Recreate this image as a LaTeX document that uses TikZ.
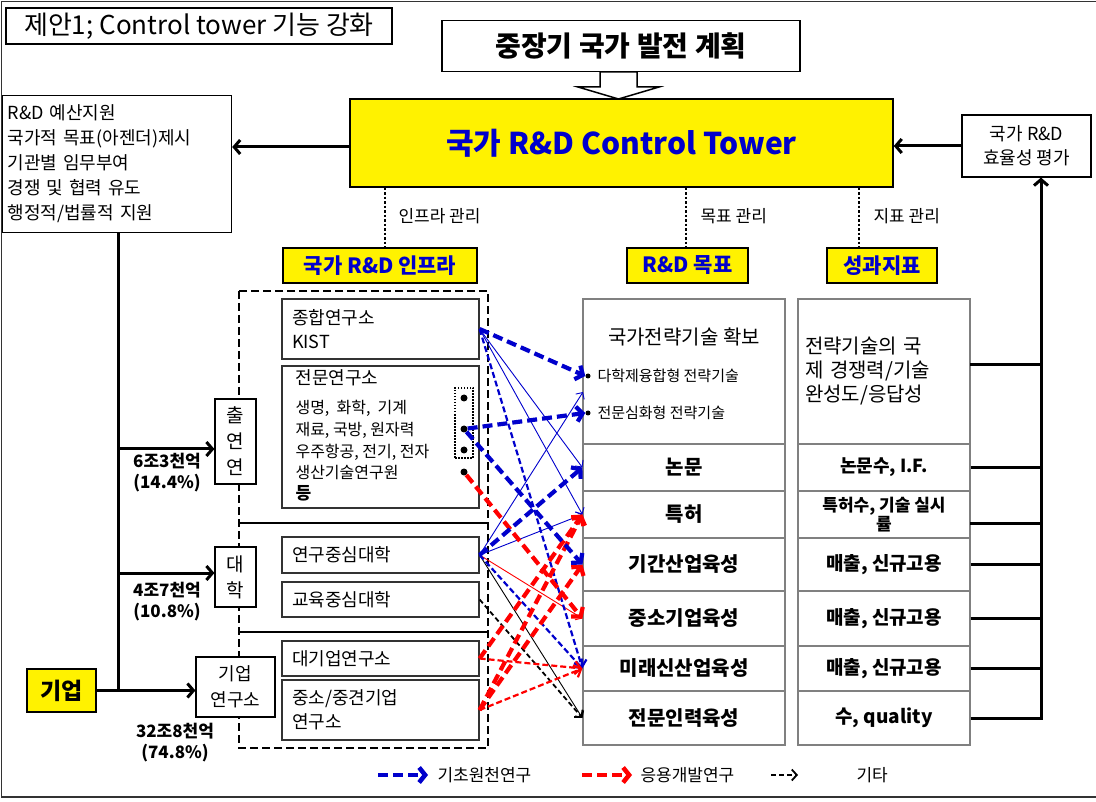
\documentclass[tikz,border=0pt]{standalone}
\usepackage{fontspec}
\setmainfont{Noto Sans CJK KR}
\usetikzlibrary{arrows.meta,calc}
\newcommand{\fsz}[2]{\fontsize{#1}{#2}\selectfont}
\definecolor{dblue}{RGB}{0,0,204}
\definecolor{dred}{RGB}{255,0,0}
\definecolor{tblue}{RGB}{0,0,204}
\begin{document}
\begin{tikzpicture}[x=1pt,y=-1pt,
  box/.style={draw=black,line width=1.2pt,fill=white,inner sep=0pt,align=center},
  obox/.style={draw=black!80,line width=1.2pt,fill=white,inner sep=0pt,minimum width=197pt,text width=177pt,align=left},
  cell/.style={draw=black!50,line width=1.2pt,fill=white,inner sep=0pt,align=center},
  ybox/.style={draw=black,line width=1.5pt,fill=yellow,inner sep=0pt,align=center},
  tree/.style={line width=3pt},
  treearrow/.style={line width=3pt,-{Straight Barb[length=6pt,width=14pt]}},
  dotline/.style={line width=2.5pt,dash pattern=on 2.5pt off 2pt},
  bT/.style={draw=dblue,line width=4.2pt,dash pattern=on 10pt off 5pt,-{Straight Barb[length=6pt,width=15pt]}},
  bM/.style={draw=dblue,line width=2.2pt,dash pattern=on 6pt off 3pt,-{Straight Barb[length=6pt,width=13pt]}},
  bt/.style={draw=dblue,line width=0.9pt,-{Straight Barb[length=5pt,width=10pt]}},
  rT/.style={draw=dred,line width=4.2pt,dash pattern=on 10pt off 5pt,-{Straight Barb[length=6pt,width=15pt]}},
  rM/.style={draw=dred,line width=2.2pt,dash pattern=on 6pt off 3pt,-{Straight Barb[length=6pt,width=13pt]}},
  rt/.style={draw=dred,line width=0.9pt,-{Straight Barb[length=5pt,width=10pt]}},
  kM/.style={draw=black,line width=1.8pt,dash pattern=on 5pt off 3pt,-{Straight Barb[length=5pt,width=11pt]}},
  kt/.style={draw=black,line width=0.9pt,-{Straight Barb[length=5pt,width=10pt]}},
  dotn/.style={circle,fill=black,inner sep=0pt,minimum size=7pt}
]
\useasboundingbox (0,0) rectangle (1096,802);
\draw[line width=1.5pt,black!80] (1096,1.5) -- (1.5,1.5) -- (1.5,797) -- (1096,797);

% top
\node[box,minimum width=386pt,minimum height=36pt,font={\fsz{26}{28}}] (title) at (199,26) {제안1; Control tower 기능 강화};
\node[box,minimum width=358pt,minimum height=51pt,font={\fsz{28}{32}\bfseries}] (plan) at (621,46) {중장기 국가 발전 계획};
\node[ybox,minimum width=543pt,minimum height=88pt,text=tblue,font={\fsz{30}{34}\bfseries}] (tower) at (621.5,143) {국가 R\&D Control Tower};
\draw[line width=1.5pt,fill=white] (600,72) -- (637,72) -- (637,87) -- (659,87) -- (618.5,99) -- (578,87) -- (600,87) -- cycle;

\node[box,anchor=north west,minimum width=229pt,minimum height=137pt,text width=219pt,inner xsep=5pt,align=left,font={\fsz{18}{25}}] (goals) at (2,95)
 {R\&D 예산지원\\국가적 목표(아젠더)제시\\기관별 임무부여\\경쟁 및 협력 유도\\행정적/법률적 지원};
\node[box,minimum width=129pt,minimum height=62pt,font={\fsz{18}{24}}] (eval) at (1026.5,146) {국가 R\&D\\효율성 평가};
\draw[treearrow] ([yshift=-4pt]tower.west) -- ([yshift=-4pt]tower.west -| goals.east);
\draw[treearrow] (eval.west) -- (eval.west -| tower.east);

% headers
\node[ybox,minimum width=194pt,minimum height=35pt,text=tblue,font={\fsz{21}{24}\bfseries}] (infra) at (380,265.5) {국가 R\&D 인프라};
\node[ybox,minimum width=121pt,minimum height=35pt,text=tblue,font={\fsz{21}{24}\bfseries}] (goalh) at (687.5,265.5) {R\&D 목표};
\node[ybox,minimum width=110pt,minimum height=35pt,text=tblue,font={\fsz{21}{24}\bfseries}] (perfh) at (882,265.5) {성과지표};
\coordinate (i1) at (385,248);
\coordinate (i2) at (686,248);
\coordinate (i3) at (859,248);
\draw[dotline] (i1 |- tower.south) -- (i1);
\draw[dotline] (i2 |- tower.south) -- (i2);
\draw[dotline] (i3 |- tower.south) -- (i3);
\node[anchor=west,font={\fsz{17}{20}}] (l1) at (395,216) {인프라 관리};
\node[anchor=west,font={\fsz{17}{20}}] (l2) at (697,216) {목표 관리};
\node[anchor=west,font={\fsz{17}{20}}] (l3) at (870,216) {지표 관리};

% infra dashed box
\draw[line width=2.5pt,dash pattern=on 8pt off 4pt] (239,291) rectangle (488,748);
\draw[line width=2.5pt] (239,523) -- (488,523);
\draw[line width=2.5pt] (239,632) -- (488,632);

% left tree
\node[box,minimum width=41pt,minimum height=85pt,font={\fsz{19}{26}}] (chul) at (235.5,441.5) {출\\연\\연};
\node[box,minimum width=41pt,minimum height=60pt,font={\fsz{19}{26}}] (dae) at (235.5,577) {대\\학};
\node[box,minimum width=79pt,minimum height=60pt,font={\fsz{18}{26}}] (gyl) at (235.5,687) {기업\\연구소};
\node[ybox,minimum width=69pt,minimum height=43pt,font={\fsz{23}{26}\bfseries}] (gieop) at (61.5,690.5) {기업};
\coordinate (trunk) at (118,690.5);
\coordinate (br1) at (118,449);
\coordinate (br2) at (118,573);
\draw[tree] (trunk |- goals.south) -- (trunk);
\draw[treearrow] (br1) -- (br1 -| chul.west);
\draw[treearrow] (br2) -- (br2 -| dae.west);
\draw[treearrow] (gieop.east) -- (gieop.east -| gyl.west);
\node[align=center,font={\fsz{17}{21}\bfseries}] (a1) at (167,473) {6조3천억\\(14.4\%)};
\node[align=center,font={\fsz{17}{21}\bfseries}] (a2) at (167,602) {4조7천억\\(10.8\%)};
\node[align=center,font={\fsz{17}{21}\bfseries}] (a3) at (175,743) {32조8천억\\(74.8\%)};

% org boxes
\node[obox,minimum height=60pt,font={\fsz{18}{24}}] (kist) at (380.5,329) {종합연구소\\KIST};
\node[obox,minimum height=142pt] (jm) at (380.5,437) {};
\node[anchor=west,font={\fsz{18}{20}}] (jm0) at (292,378) {전문연구소};
\node[anchor=west,font={\fsz{16}{18}}] (jm1) at (292,408) {생명,\ \ 화학,\ \ 기계};
\node[anchor=west,font={\fsz{16}{18}}] (jm2) at (292,430) {재료, 국방, 원자력};
\node[anchor=west,font={\fsz{16}{18}}] (jm3) at (292,452) {우주항공,\ 전기,\ 전자};
\node[anchor=west,font={\fsz{16}{18}}] (jm4) at (292,473) {생산기술연구원};
\node[anchor=west,font={\fsz{17}{18}\bfseries}] (jm5) at (292,493) {등};
\node[draw,line width=2pt,dash pattern=on 1.5pt off 1.5pt,minimum width=18pt,minimum height=70pt,inner sep=0pt] (dbox) at (464,423) {};
\node[dotn] (d1) at (464,398) {};
\node[dotn] (d2) at (464,429) {};
\node[dotn] (d3) at (464,450) {};
\node[dotn] (d4) at (464,472) {};
\node[obox,minimum height=36pt,font={\fsz{18}{22}}] (yg) at (380.5,555) {연구중심대학};
\node[obox,minimum height=35pt,font={\fsz{18}{22}}] (gy) at (380.5,599.5) {교육중심대학};
\node[obox,minimum height=35pt,font={\fsz{18}{22}}] (dg) at (380.5,658.5) {대기업연구소};
\node[obox,minimum height=60pt,font={\fsz{18}{24}}] (js) at (380.5,710) {중소/중견기업\\연구소};

% goal column
\node[cell,minimum width=202pt,minimum height=145pt] (m0) at (684,371.5) {};
\node[font={\fsz{20}{24}}] (m0t) at (684,337) {국가전략기술 확보};
\node[dotn,minimum size=5pt] (b1) at (588,376) {};
\node[dotn,minimum size=5pt] (b2) at (588,413) {};
\node[anchor=west,font={\fsz{15}{18}}] (b1t) at (594,376) {다학제융합형 전략기술};
\node[anchor=west,font={\fsz{15}{18}}] (b2t) at (594,413) {전문심화형 전략기술};
\node[cell,minimum width=202pt,minimum height=47pt,font={\fsz{20}{24}\bfseries}] (m1) at (684,467.5) {논문};
\node[cell,minimum width=202pt,minimum height=47pt,font={\fsz{20}{24}\bfseries}] (m2) at (684,514.5) {특허};
\node[cell,minimum width=202pt,minimum height=53pt,font={\fsz{20}{24}\bfseries}] (m3) at (684,564.5) {기간산업육성};
\node[cell,minimum width=202pt,minimum height=55pt,font={\fsz{20}{24}\bfseries}] (m4) at (684,618.5) {중소기업육성};
\node[cell,minimum width=202pt,minimum height=45pt,font={\fsz{20}{24}\bfseries}] (m5) at (684,668.5) {미래신산업육성};
\node[cell,minimum width=202pt,minimum height=54pt,font={\fsz{20}{24}\bfseries}] (m6) at (684,718) {전문인력육성};

% perf column
\node[cell,minimum width=172pt,minimum height=145pt,text width=158pt,align=left,font={\fsz{20}{24}}] (r0) at (884,371.5) {전략기술의 국\\제 경쟁력/기술\\완성도/응답성};
\node[cell,minimum width=172pt,minimum height=47pt,font={\fsz{18}{22}\bfseries}] (r1) at (884,467.5) {논문수, I.F.};
\node[cell,minimum width=172pt,minimum height=47pt,font={\fsz{17}{18}\bfseries}] (r2) at (884,514.5) {특허수, 기술 실시\\률};
\node[cell,minimum width=172pt,minimum height=53pt,font={\fsz{19}{24}\bfseries}] (r3) at (884,564.5) {매출, 신규고용};
\node[cell,minimum width=172pt,minimum height=55pt,font={\fsz{19}{24}\bfseries}] (r4) at (884,618.5) {매출, 신규고용};
\node[cell,minimum width=172pt,minimum height=45pt,font={\fsz{19}{24}\bfseries}] (r5) at (884,668.5) {매출, 신규고용};
\node[cell,minimum width=172pt,minimum height=54pt,font={\fsz{19}{24}\bfseries}] (r6) at (884,718) {수, quality};

\coordinate (sp) at (1041,718);
\coordinate (r0o) at (970,365);
\coordinate (r2o) at (970,523);
\draw[tree] (r0o) -- (r0o -| sp);
\draw[tree] (r1.east) -- (r1.east -| sp);
\draw[tree] (r2o) -- (r2o -| sp);
\draw[tree] (r3.east) -- (r3.east -| sp);
\draw[tree] (r4.east) -- (r4.east -| sp);
\draw[tree] (r5.east) -- (r5.east -| sp);
\draw[treearrow] (r6.east) -- (r6.east -| sp) -- (sp |- eval.south);

% connectors between infra and goals
\coordinate (t12) at (583,392);
\draw[bt] (kist.east) -- (m1.west);
\draw[bt] (kist.east) -- (m2.west);
\draw[bt] (yg.east) -- (t12);
\draw[bt] (yg.east) -- (m2.west);
\draw[rt] (yg.east) -- (m4.west);
\draw[kt] (yg.east) -- (m6.west);
\draw[kM] (gy.east) -- (m6.west);
\draw[bM] (kist.east) -- (m5.west);
\draw[bM] (yg.east) -- (m5.west);
\draw[rM] (dg.east) -- (m5.west);
\draw[rM] (js.east) -- (m5.west);
\draw[rT] (d4) -- (m4.west);
\draw[rT] (dg.east) -- (m2.west);
\draw[rT] (js.east) -- (m2.west);
\draw[rT] (js.east) -- (m3.west);
\draw[bT] (kist.east) -- (b1.west);
\draw[bT] (d2) -- (b2.west);
\draw[bT] (d2) -- (m3.west);
\draw[bT] (yg.east) -- (m1.west);

% legend
\coordinate (lb0) at (378,775);
\coordinate (lb1) at (428,775);
\coordinate (lr0) at (582,775);
\coordinate (lr1) at (632,775);
\coordinate (lk0) at (771,775);
\coordinate (lk1) at (798,775);
\draw[bT,line width=4.5pt] (lb0) -- (lb1);
\draw[rT,line width=4.5pt] (lr0) -- (lr1);
\draw[kM] (lk0) -- (lk1);
\node[anchor=west,font={\fsz{17}{20}}] (lbt) at (434,775) {기초원천연구};
\node[anchor=west,font={\fsz{17}{20}}] (lrt) at (637,775) {응용개발연구};
\node[anchor=west,font={\fsz{17}{20}}] (lkt) at (853,775) {기타};
\end{tikzpicture}
\end{document}
